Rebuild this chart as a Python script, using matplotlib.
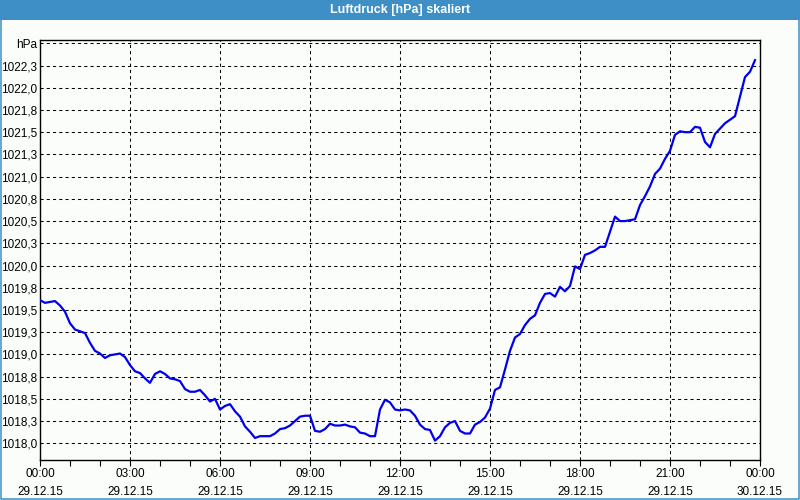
import numpy as np
import matplotlib
matplotlib.use("Agg")
import matplotlib.pyplot as plt
from matplotlib.patches import Rectangle

title = "Luftdruck [hPa] skaliert"

# pressure samples every 10 minutes starting 29.12.15 00:00
step_minutes = 10
pressure = [
    1019.61, 1019.58, 1019.59, 1019.60, 1019.55, 1019.48, 1019.35, 1019.28, 1019.26, 1019.24,
    1019.13, 1019.04, 1019.01, 1018.96, 1018.99, 1019.00, 1019.01, 1018.97, 1018.88, 1018.81,
    1018.79, 1018.73, 1018.68, 1018.78, 1018.81, 1018.78, 1018.73, 1018.72, 1018.70, 1018.61,
    1018.58, 1018.58, 1018.60, 1018.54, 1018.47, 1018.50, 1018.38, 1018.42, 1018.44, 1018.36,
    1018.30, 1018.19, 1018.13, 1018.06, 1018.08, 1018.08, 1018.08, 1018.11, 1018.16, 1018.17,
    1018.20, 1018.25, 1018.30, 1018.31, 1018.31, 1018.14, 1018.13, 1018.16, 1018.22, 1018.20,
    1018.20, 1018.21, 1018.19, 1018.18, 1018.12, 1018.11, 1018.08, 1018.08, 1018.38, 1018.49,
    1018.46, 1018.38, 1018.37, 1018.38, 1018.37, 1018.31, 1018.21, 1018.16, 1018.15, 1018.03,
    1018.08, 1018.18, 1018.23, 1018.25, 1018.14, 1018.11, 1018.11, 1018.21, 1018.24, 1018.29,
    1018.39, 1018.60, 1018.63, 1018.83, 1019.04, 1019.19, 1019.23, 1019.33, 1019.40, 1019.44,
    1019.58, 1019.68, 1019.69, 1019.65, 1019.76, 1019.71, 1019.77, 1019.99, 1019.96, 1020.12,
    1020.14, 1020.17, 1020.21, 1020.21, 1020.38, 1020.55, 1020.50, 1020.50, 1020.51, 1020.52,
    1020.68, 1020.78, 1020.89, 1021.03, 1021.09, 1021.20, 1021.29, 1021.47, 1021.51, 1021.50,
    1021.50, 1021.56, 1021.55, 1021.39, 1021.33, 1021.48, 1021.54, 1021.60, 1021.64, 1021.68,
    1021.90, 1022.12, 1022.18, 1022.31,
]

ytick_values = [1018.0, 1018.25, 1018.5, 1018.75, 1019.0, 1019.25, 1019.5, 1019.75,
                1020.0, 1020.25, 1020.5, 1020.75, 1021.0, 1021.25, 1021.5, 1021.75,
                1022.0, 1022.25, 1022.5]
ytick_labels = ["1018,0", "1018,3", "1018,5", "1018,8", "1019,0", "1019,3", "1019,5", "1019,8",
                "1020,0", "1020,3", "1020,5", "1020,8", "1021,0", "1021,3", "1021,5", "1021,8",
                "1022,0", "1022,3", "hPa"]

xtick_hours = [0, 3, 6, 9, 12, 15, 18, 21, 24]
xtick_times = ["00:00", "03:00", "06:00", "09:00", "12:00", "15:00", "18:00", "21:00", "00:00"]
xtick_dates = ["29.12.15", "29.12.15", "29.12.15", "29.12.15", "29.12.15", "29.12.15",
               "29.12.15", "29.12.15", "30.12.15"]

hours = np.arange(len(pressure)) * step_minutes / 60.0

plt.rcParams["font.family"] = ["Liberation Sans", "DejaVu Sans"]

bg = "#fbfdfb"
bar_color = "#3d8fc5"
label_size = 8.5

fig = plt.figure(figsize=(8, 5), dpi=100, facecolor=bg)

# title bar and frame
fig.patches.append(Rectangle((0, 480 / 500), 1, 20 / 500, transform=fig.transFigure,
                             facecolor=bar_color, edgecolor="none", zorder=0))
fig.patches.append(Rectangle((0.75 / 800, 0.75 / 500), 798.5 / 800, 485 / 500, transform=fig.transFigure,
                             facecolor="none", edgecolor=bar_color, linewidth=1.1, zorder=0))
fig.text(0.5, 1 - 10.5 / 500, title, color="white", fontsize=9, fontweight="bold",
         ha="center", va="center")

ax = fig.add_axes([40 / 800, 40 / 500, 720 / 800, 420 / 500])
ax.set_facecolor(bg)
ax.plot(hours, pressure, color="#0000ee", linewidth=1.6, zorder=3, solid_joinstyle="round")

ax.set_xlim(0, 24)
ax.set_ylim(1017.812, 1022.537)

ax.set_yticks(ytick_values)
ax.set_yticklabels(ytick_labels)
ax.set_xticks(xtick_hours)
ax.set_xticklabels([])
ax.set_xticks(np.arange(0, 25, 1), minor=True)

for h, t, d in zip(xtick_hours, xtick_times, xtick_dates):
    ax.annotate(t, xy=(h, 0), xycoords=("data", "axes fraction"), xytext=(0, -10.3),
                textcoords="offset points", ha="center", va="center", fontsize=label_size,
                annotation_clip=False)
    ax.annotate(d, xy=(h, 0), xycoords=("data", "axes fraction"), xytext=(0, -22.8),
                textcoords="offset points", ha="center", va="center", fontsize=label_size,
                annotation_clip=False)

ax.tick_params(axis="y", length=0, pad=2.0, labelsize=label_size)
ax.tick_params(axis="x", which="both", direction="out", length=4, width=0.8)

ax.grid(True, which="major", color="black", linestyle=(0, (3, 3)), linewidth=0.75)

for s in ax.spines.values():
    s.set_color("black")
    s.set_linewidth(1.0)

fig.savefig("out.png", dpi=100, facecolor=bg)
